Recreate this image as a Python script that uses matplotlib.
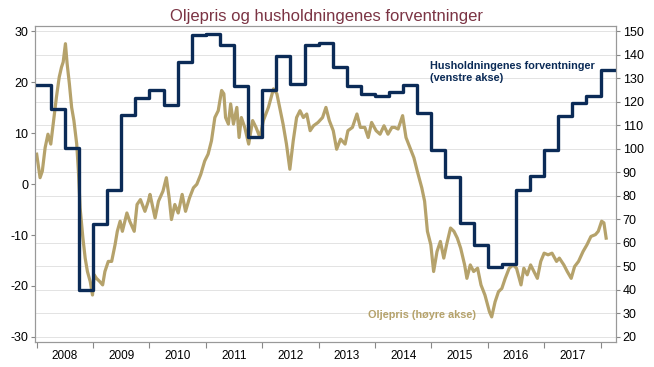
import numpy as np
import matplotlib
matplotlib.use("Agg")
import matplotlib.pyplot as plt

plt.rcParams['font.family'] = ['Liberation Sans', 'DejaVu Sans']
plt.rcParams['axes.unicode_minus'] = False

# Husholdningenes forventninger (venstre akse), kvartalstall 2008K1 - 2018K1
hh_start = 2008.0
hh_values = [19.5, 14.7, 7.0, -20.7,
             -7.8, -1.2, 13.6, 16.9,
             18.4, 15.6, 23.9, 29.2,
             29.5, 27.2, 19.2, 9.3,
             18.4, 25.1, 19.7, 27.2,
             27.7, 23.0, 19.3, 17.6,
             17.2, 18.0, 19.4, 14.0,
             6.6, 1.4, -7.6, -12.0,
             -16.2, -15.7, -1.2, 1.6,
             6.6, 13.3, 15.9, 17.2,
             22.3]

# Oljepris (høyre akse)
oil_t = [2008.00, 2008.06, 2008.10, 2008.15, 2008.20, 2008.25, 2008.30, 2008.35, 2008.40, 2008.44,
         2008.47, 2008.51, 2008.54, 2008.58, 2008.62, 2008.66, 2008.71, 2008.74, 2008.77, 2008.82,
         2008.86, 2008.90, 2008.95, 2008.99, 2009.02, 2009.06, 2009.12, 2009.17, 2009.21, 2009.27,
         2009.33, 2009.39, 2009.43, 2009.48, 2009.52, 2009.60, 2009.65, 2009.73, 2009.78, 2009.84,
         2009.92, 2009.98, 2010.01, 2010.10, 2010.16, 2010.24, 2010.30, 2010.35, 2010.39, 2010.45,
         2010.51, 2010.58, 2010.64, 2010.71, 2010.78, 2010.84, 2010.91, 2010.98, 2011.04, 2011.10,
         2011.16, 2011.22, 2011.28, 2011.32, 2011.35, 2011.40, 2011.44, 2011.49, 2011.55, 2011.59,
         2011.63, 2011.69, 2011.76, 2011.83, 2011.89, 2011.96, 2012.02, 2012.11, 2012.20, 2012.26,
         2012.31, 2012.37, 2012.43, 2012.49, 2012.55, 2012.61, 2012.67, 2012.73, 2012.79, 2012.85,
         2012.91, 2012.99, 2013.07, 2013.13, 2013.19, 2013.26, 2013.32, 2013.39, 2013.47, 2013.52,
         2013.60, 2013.68, 2013.74, 2013.82, 2013.88, 2013.94, 2014.02, 2014.09, 2014.16, 2014.23,
         2014.30, 2014.35, 2014.41, 2014.49, 2014.55, 2014.62, 2014.69, 2014.75, 2014.83, 2014.88,
         2014.93, 2014.99, 2015.04, 2015.10, 2015.16, 2015.22, 2015.27, 2015.34, 2015.40, 2015.46,
         2015.52, 2015.59, 2015.63, 2015.69, 2015.75, 2015.82, 2015.88, 2015.95, 2016.03, 2016.07,
         2016.13, 2016.19, 2016.25, 2016.31, 2016.38, 2016.45, 2016.51, 2016.59, 2016.64, 2016.70,
         2016.76, 2016.82, 2016.88, 2016.94, 2017.00, 2017.07, 2017.14, 2017.22, 2017.27, 2017.35,
         2017.41, 2017.48, 2017.54, 2017.61, 2017.69, 2017.76, 2017.83, 2017.91, 2017.96, 2018.02,
         2018.06, 2018.10]
oil_v = [97.7, 87.7, 90.5, 100.5, 106.2, 102.0, 112.0, 121.9, 130.5, 134.7,
         136.9, 144.7, 136.2, 127.6, 117.6, 112.0, 102.0, 90.5, 74.9, 62.0,
         53.5, 47.8, 43.5, 37.8, 46.4, 44.9, 43.5, 42.1, 47.8, 52.1,
         52.1, 59.2, 64.9, 69.2, 64.9, 72.7, 69.2, 64.9, 76.3, 78.4,
         73.4, 77.7, 80.6, 70.6, 77.7, 82.0, 87.7, 79.1, 69.9, 76.3,
         72.7, 80.6, 73.4, 79.1, 83.4, 84.9, 89.1, 94.8, 97.7, 103.4,
         113.3, 116.2, 124.8, 123.4, 113.3, 110.5, 119.1, 110.5, 117.6, 104.8,
         113.3, 109.1, 102.0, 112.0, 109.1, 104.8, 112.0, 117.6, 125.5, 123.4,
         117.6, 110.5, 102.0, 91.3, 103.4, 113.3, 116.2, 113.3, 114.8, 107.7,
         109.8, 111.2, 113.3, 117.6, 112.0, 107.7, 99.8, 104.1, 102.0, 107.7,
         109.1, 114.8, 109.1, 109.1, 104.8, 111.2, 107.7, 106.2, 109.8, 106.2,
         109.1, 109.1, 108.4, 114.1, 104.8, 100.5, 96.2, 90.5, 83.4, 77.7,
         64.9, 59.2, 47.8, 56.3, 60.6, 53.5, 59.2, 66.3, 64.9, 62.0,
         57.7, 50.6, 44.9, 50.6, 47.8, 49.2, 42.1, 37.8, 30.7, 28.5,
         34.9, 39.2, 40.6, 44.9, 49.2, 50.6, 49.2, 42.1, 49.2, 46.4,
         50.6, 47.8, 44.9, 52.1, 55.6, 54.9, 55.6, 52.1, 53.5, 50.6,
         47.8, 44.9, 49.9, 52.1, 56.3, 59.2, 62.7, 63.5, 64.9, 69.2,
         68.5, 62.0]

years = list(range(2008, 2018))

navy = '#0B2B57'
tan = '#B5A26B'

fig = plt.figure(figsize=(6.54, 3.67), dpi=100)
ax = fig.add_axes([0.0535, 0.068, 0.888, 0.861])
ax2 = ax.twinx()

# step-serien oppå, oljeprisen bak
ax.set_zorder(2)
ax.patch.set_visible(False)

hh_x = hh_start + 0.25 * np.arange(len(hh_values) + 1)
hh_y = hh_values + [hh_values[-1]]
ax.plot(hh_x, hh_y, drawstyle='steps-post', color=navy, lw=2.4)

ax2.plot(oil_t, oil_v, color=tan, lw=2.3)

ax.set_xlim(2007.97, 2018.27)
ax.set_ylim(-31.0, 31.0)
ax2.set_ylim(17.8, 152.2)

ax.set_yticks(np.arange(-30, 31, 10))
ax2.set_yticks(np.arange(20, 151, 10))

ax.set_xticks(np.arange(2008, 2019))
ax.set_xticklabels([])
ax.set_xticks(np.array(years) + 0.5, minor=True)
ax.set_xticklabels([str(y) for y in years], minor=True)
ax.tick_params(axis='x', which='major', length=4, color='#888888')
ax.tick_params(axis='x', which='minor', length=0, labelsize=8.5, pad=6)
ax.tick_params(axis='y', length=3, color='#888888', labelsize=9, pad=2)
ax2.tick_params(axis='y', length=3, color='#888888', labelsize=9, pad=2)

ax2.grid(True, color='#E3E3E3', lw=0.7)
ax2.set_axisbelow(True)

for a in (ax, ax2):
    for s in a.spines.values():
        s.set_color('#999999')
        s.set_linewidth(0.8)

ax.text(2014.97, 21.9, 'Husholdningenes forventninger\n(venstre akse)',
        color=navy, fontsize=7.8, fontweight='bold', ha='left', va='center',
        linespacing=1.25)
ax2.text(2013.87, 29.5, 'Oljepris (høyre akse)', color=tan, fontsize=7.8,
         fontweight='bold', ha='left', va='center')

fig.suptitle('Oljepris og husholdningenes forventninger', x=0.5, y=0.975,
             color='#7B3444', fontsize=12)

fig.savefig('out.png', dpi=100)
